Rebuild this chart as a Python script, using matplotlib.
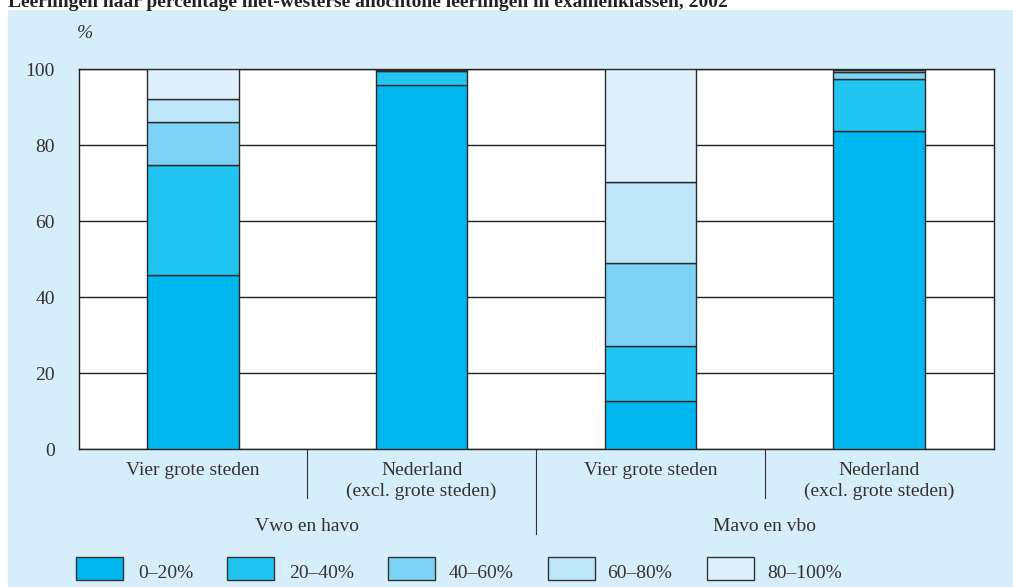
import matplotlib.pyplot as plt
import numpy as np
from matplotlib.patches import Rectangle

plt.rcParams['font.family'] = ['Liberation Serif', 'DejaVu Serif']

# data
categories = ['Vier grote steden', 'Nederland\n(excl. grote steden)',
              'Vier grote steden', 'Nederland\n(excl. grote steden)']
groups = ['Vwo en havo', 'Mavo en vbo']
series = ['0–20%', '20–40%', '40–60%', '60–80%', '80–100%']
s_0_20 = [45.8, 95.8, 12.6, 83.8]
s_20_40 = [28.9, 3.8, 14.5, 13.5]
s_40_60 = [11.3, 0.2, 21.9, 2.0]
s_60_80 = [6.2, 0.1, 21.3, 0.4]
s_80_100 = [7.8, 0.1, 29.7, 0.3]
values = [s_0_20, s_20_40, s_40_60, s_60_80, s_80_100]
colors = ['#00b6ef', '#22c4f1', '#7dd3f5', '#bde6f9', '#def0fc']

FS = 14
W, H = 1013, 587
fig = plt.figure(figsize=(W / 100, H / 100), dpi=100)
fig.patch.set_facecolor('white')

# light blue panel
fig.patches.append(Rectangle((8 / W, 0), 1 - 8 / W, (H - 10) / H,
                             transform=fig.transFigure, facecolor='#d6edfa',
                             edgecolor='none', zorder=-5))

fig.text(8 / W, 1 - 7 / H, 'Leerlingen naar percentage niet-westerse allochtone leerlingen in examenklassen, 2002',
         fontsize=FS, fontweight='bold', va='baseline', ha='left', color='#222222')

ax = fig.add_axes([78.5 / W, (H - 449) / H, (993.5 - 78.5) / W, (449 - 69) / H])
ax.set_facecolor('white')
ax.set_zorder(2)

x = np.arange(len(categories))
bottom = np.zeros(len(categories))
for vals, col in zip(values, colors):
    ax.bar(x, vals, width=0.4, bottom=bottom, color=col, edgecolor='#2a2a2a',
           linewidth=1, zorder=3)
    bottom += np.array(vals)

ax.set_xlim(-0.5, 3.5)
ax.set_ylim(0, 100)
ax.set_yticks([0, 20, 40, 60, 80, 100])
ax.tick_params(axis='y', length=0, pad=17, labelsize=FS, labelcolor='#333333')
ax.tick_params(axis='x', length=0, labelbottom=False)
ax.grid(axis='y', color='#222222', linewidth=1, zorder=1)
for sp in ax.spines.values():
    sp.set_color('#222222')
    sp.set_linewidth(1)

tr = ax.get_xaxis_transform()
for xi, lab in zip(x, categories):
    ax.text(xi, -0.034, lab, transform=tr, ha='center', va='top', fontsize=FS,
            color='#333333', linespacing=1.32)
for xi, g in zip([0.5, 2.5], groups):
    ax.text(xi, -0.205, g, transform=tr, ha='center', va='center', fontsize=FS,
            color='#333333')
for xs, y2 in [(0.5, -0.129), (1.5, -0.224), (2.5, -0.129)]:
    ax.plot([xs, xs], [0, y2], transform=tr, color='#333333', lw=0.8, clip_on=False)

ax.text(-0.002, 1 + (69 - 33) / 380, '%', transform=ax.transAxes, ha='left',
        va='center', fontsize=FS, style='italic', color='#333333')

# legend
patch_x = [76, 227, 388, 548, 707]
label_x = [138, 289, 449, 607, 767]
for px, lx, lab, col in zip(patch_x, label_x, series, colors):
    fig.patches.append(Rectangle((px / W, (H - 580) / H), 47 / W, 23 / H,
                                 transform=fig.transFigure, facecolor=col,
                                 edgecolor='#333333', linewidth=1))
    fig.text(lx / W, 1 - 574 / H, lab, ha='left', va='center', fontsize=FS,
             color='#333333')

fig.savefig('out.png', dpi=100)
